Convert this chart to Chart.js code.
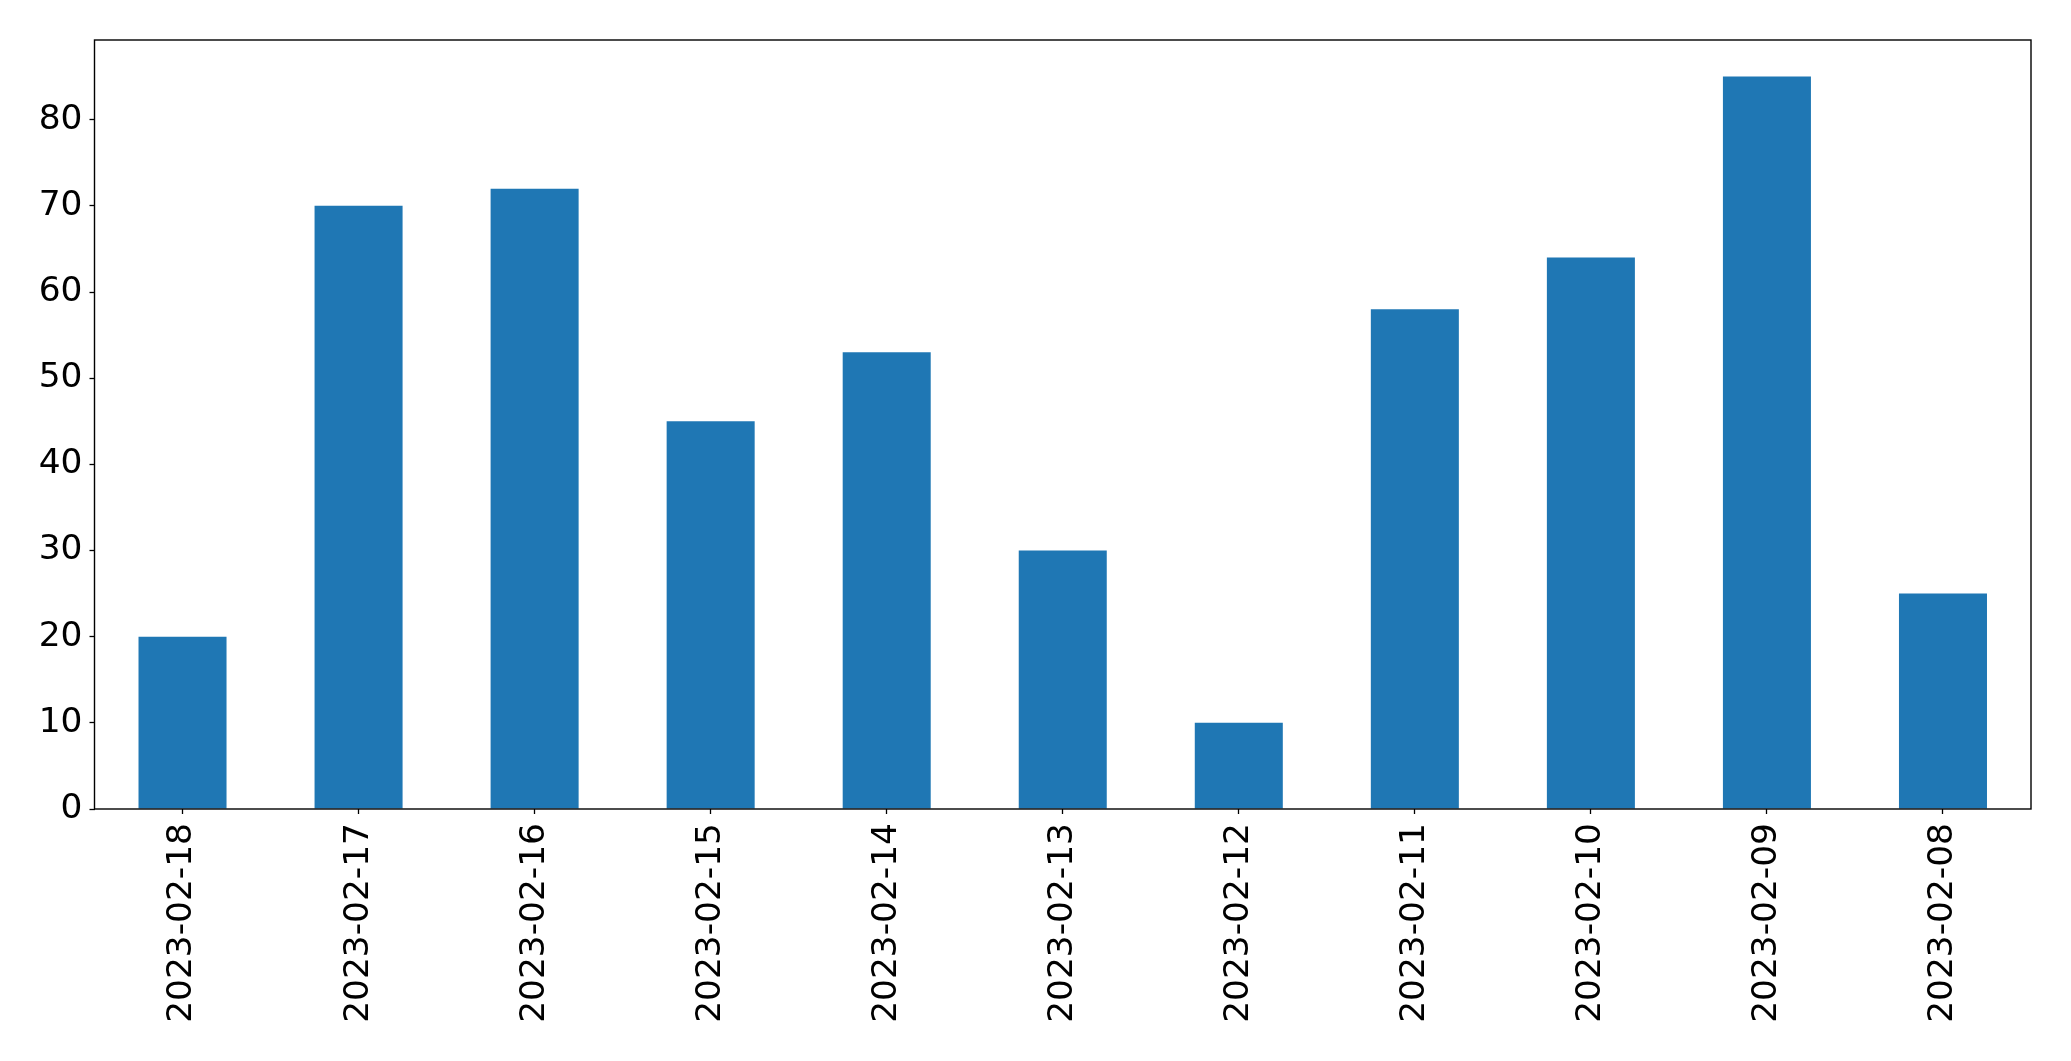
<!DOCTYPE html>
<html>
<head>
<meta charset="utf-8">
<script src="https://cdn.jsdelivr.net/npm/chart.js@4/dist/chart.umd.min.js"></script>
<style>
  html, body { margin: 0; padding: 0; background: #ffffff; }
  #wrap { width: 2071px; height: 1061px; }
</style>
</head>
<body>
<div id="wrap"><canvas id="chart" width="2071" height="1061"></canvas></div>
<script>
  const DATES = [
    "2023-02-18", "2023-02-17", "2023-02-16", "2023-02-15", "2023-02-14", "2023-02-13",
    "2023-02-12", "2023-02-11", "2023-02-10", "2023-02-09", "2023-02-08",
  ];
  const COUNTS = [20, 70, 72, 45, 53, 30, 10, 58, 64, 85, 25];
  const Y_TICKS = [0, 10, 20, 30, 40, 50, 60, 70, 80];

  const FONT = { family: "'DejaVu Sans', sans-serif", size: 34.4 };

  // matplotlib-style box around the axes
  const frame = {
    id: "frame",
    afterDraw(chart) {
      const a = chart.chartArea;
      const ctx = chart.ctx;
      ctx.save();
      ctx.strokeStyle = "#000000";
      ctx.lineWidth = 1.4;
      ctx.strokeRect(a.left, a.top, a.right - a.left, a.bottom - a.top);
      ctx.restore();
    },
  };

  new Chart(document.getElementById("chart"), {
    type: "bar",
    data: {
      labels: DATES,
      datasets: [{
        data: COUNTS,
        backgroundColor: "#1f77b4",
        categoryPercentage: 1.0,
        barPercentage: 0.5,
      }],
    },
    options: {
      responsive: false,
      animation: false,
      layout: { padding: { top: 40, right: 40, bottom: 0, left: 0 } },
      plugins: { legend: { display: false }, tooltip: { enabled: false } },
      scales: {
        x: {
          grid: { display: true, drawOnChartArea: false, offset: false, tickLength: 5, tickColor: "#000000", tickWidth: 1.3 },
          border: { display: false },
          ticks: { color: "#000000", font: FONT, minRotation: 90, maxRotation: 90, padding: 9, autoSkip: false },
          afterFit(scale) { scale.height = 252; },
        },
        y: {
          min: 0,
          max: Math.max(...COUNTS) * 1.05,
          grid: { display: true, drawOnChartArea: false, tickLength: 5, tickColor: "#000000", tickWidth: 1.3 },
          border: { display: false },
          ticks: { color: "#000000", font: FONT, padding: 7 },
          afterBuildTicks(scale) { scale.ticks = Y_TICKS.map((v) => ({ value: v })); },
          afterFit(scale) { scale.width = 94.5; },
        },
      },
    },
    plugins: [frame],
  });
</script>
</body>
</html>
